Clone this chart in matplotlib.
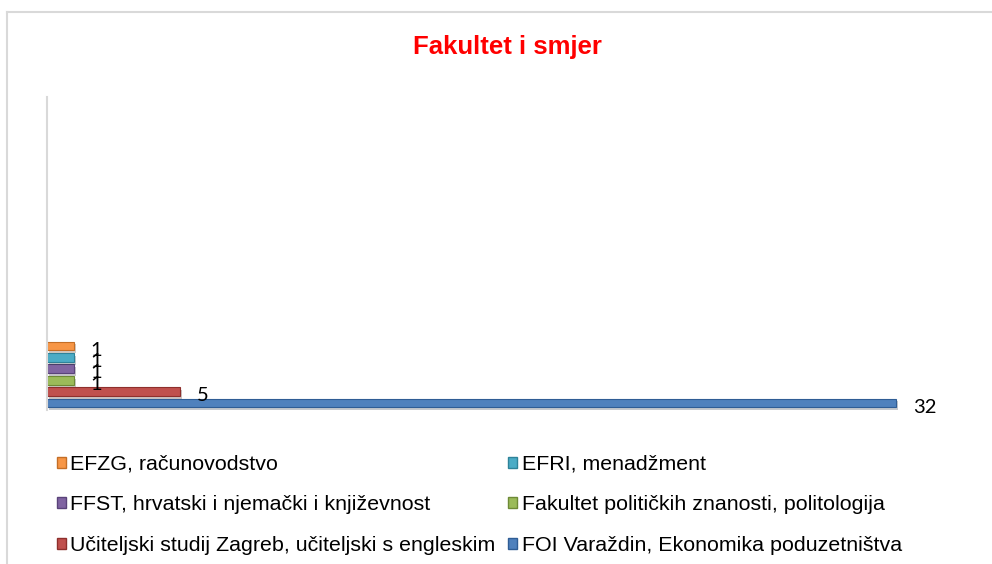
import matplotlib.pyplot as plt
from matplotlib.lines import Line2D
from matplotlib.patches import Patch
import matplotlib.patheffects as pe

# data (bottom bar first)
series = ["FOI Varaždin, Ekonomika poduzetništva",
          "Učiteljski studij Zagreb, učiteljski s engleskim",
          "Fakultet političkih znanosti, politologija",
          "FFST, hrvatski i njemački i književnost",
          "EFRI, menadžment",
          "EFZG, računovodstvo"]
values = [32, 5, 1, 1, 1, 1]
colors = ["#4F81BD", "#C0504D", "#9BBB59", "#8064A2", "#4BACC6", "#F79646"]
edges = ["#2F5D95", "#8E2F2C", "#6E8A36", "#5A437A", "#2E8399", "#C46E26"]

W, H = 992, 564
fig = plt.figure(figsize=(W / 100, H / 100), dpi=100)

# chart frame (cropped on right/bottom)
frame = "#d9d9d9"
fig.add_artist(Line2D([7 / W, 1], [1 - 12 / H, 1 - 12 / H], color=frame, lw=1.5))
fig.add_artist(Line2D([7 / W, 7 / W], [0, 1 - 12 / H], color=frame, lw=1.5))

ax = fig.add_axes([47 / W, (H - 410) / H, (976 - 47) / W, (410 - 97) / H])

pos = list(range(len(values)))
bars = ax.barh(pos, values, height=0.78, color=colors, edgecolor=edges, linewidth=0.8)
for b in bars:
    b.set_path_effects([pe.SimplePatchShadow(offset=(1.5, -2), alpha=0.25), pe.Normal()])

for p, v in zip(pos, values):
    ax.annotate(str(v), (v, p), xytext=(17, -4), textcoords="offset pixels",
                ha="left", va="center", fontsize=14.5, family="Lato", color="black")

ax.set_xlim(0, 35)
ax.set_ylim(-0.61, 26.84)
ax.set_xticks([])
ax.set_yticks([])
for s in ["top", "right", "bottom"]:
    ax.spines[s].set_visible(False)
ax.spines["left"].set_color(frame)
ax.spines["left"].set_linewidth(1.5)

fig.text(507 / W, 1 - 47 / H, "Fakultet i smjer", color="#FF0000", fontsize=18.5,
         fontweight="bold", family="Liberation Sans", ha="center", va="center")

# legend row-wise: orange/cyan, purple/green, red/blue
order = [5, 3, 1, 4, 2, 0]
handles = [Patch(facecolor=colors[i], edgecolor=edges[i]) for i in order]
labels = [series[i] for i in order]
fig.legend(handles, labels, ncol=2, loc="upper left", bbox_to_anchor=(57 / W, 1 - 455 / H),
           frameon=False, prop={"family": "Liberation Sans", "size": 15.4},
           handlelength=0.42, handleheight=0.42, handletextpad=0.2,
           columnspacing=0.6, labelspacing=1.0, borderpad=0, borderaxespad=0)

fig.savefig("out.png", dpi=100)
